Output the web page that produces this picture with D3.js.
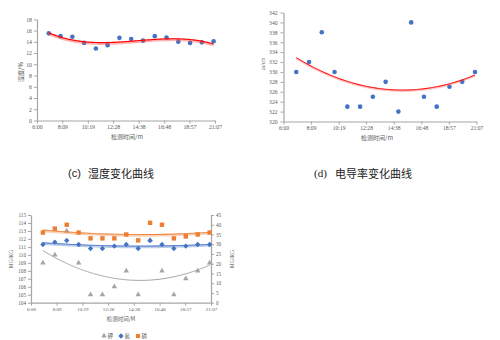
<!DOCTYPE html>
<html><head><meta charset="utf-8">
<script src="https://cdn.jsdelivr.net/npm/d3@7"></script>
<style>body{margin:0;background:#fff}svg{display:block}</style>
</head><body><svg id="root" width="500" height="340"></svg>
<script>
// ---------- data ----------
const sampleTimes = ["7:00","8:00","9:00","10:00","11:00","12:00","13:00","14:00","15:00","16:00","17:00","18:00","19:00","20:00","21:00"];
const tickLabels = ["6:00","8:09","10:19","12:28","14:38","16:48","18:57","21:07"];
const humidity = [15.5,15.0,14.9,13.8,12.8,13.4,14.7,14.5,14.2,15.0,14.75,14.0,13.8,13.9,14.1];
const humidityTicks = [0,2,4,6,8,10,12,14,16,18];
const conductivity = [330,332,338,330,323,323,325,328,322,340,325,323,327,328,330];
const conductivityTicks = [320,322,324,326,328,330,332,334,336,338,340,342];
const potassium = [109,110,113,109,105,105,106,108,105,111.8,108,105,107,108,109];
const nitrogen = [111.3,111.6,111.8,111.3,110.8,110.8,111.1,111.3,110.8,111.8,111.3,110.8,111.1,111.3,111.3];
const phosphorus = [36,38,40,36,33,33,33,35,32,41,40,33,34,35,36];
const leftTicks = [104,105,106,107,108,109,110,111,112,113,114,115];
const rightTicks = [0,5,10,15,20,25,30,35,40,45];
const legendNames = ["钾","氮","磷"];

// ---------- helpers ----------
const toMin = s => { const [h,m] = s.split(":").map(Number); return h*60+m; };
const tMin = sampleTimes.map(toMin);
const tickMin = tickLabels.map(toMin);
const svg = d3.select("#root");
const AX = "#a6a6a6", TXT = "#595959";
const SERIF = "'Liberation Serif','Times New Roman',serif";
const CJK = "'Noto Sans CJK SC','Noto Sans',sans-serif";

function polyfit(xs, ys, deg){
  const pts = xs.map((x,i)=>[(x-840)/60, ys[i]]).filter(p=>p[1]!=null);
  const n = deg+1;
  const A = Array.from({length:n},()=>Array(n+1).fill(0));
  for(const [x,y] of pts){
    for(let r=0;r<n;r++){
      for(let c=0;c<n;c++) A[r][c]+=Math.pow(x,r+c);
      A[r][n]+=Math.pow(x,r)*y;
    }
  }
  for(let i=0;i<n;i++){
    let p=i; for(let k=i+1;k<n;k++) if(Math.abs(A[k][i])>Math.abs(A[p][i])) p=k;
    [A[i],A[p]]=[A[p],A[i]];
    for(let k=0;k<n;k++){ if(k===i) continue; const f=A[k][i]/A[i][i]; for(let c=i;c<=n;c++) A[k][c]-=f*A[i][c]; }
  }
  const coef = A.map((row,i)=>row[n]/row[i]);
  return m => { const x=(m-840)/60; return coef.reduce((s,c,i)=>s+c*Math.pow(x,i),0); };
}
function trendPts(ys, deg){
  const f = polyfit(tMin, ys, deg);
  return d3.range(tMin[0], tMin[tMin.length-1]+0.1, 5).map(m=>[m,f(m)]);
}
function xAxis(g, x, yPos, fs){
  const ax = d3.axisBottom(x).tickValues(tickMin).tickFormat((d,i)=>tickLabels[i]).tickSize(3).tickSizeOuter(0).tickPadding(1.5);
  const a = g.append("g").attr("transform",`translate(0,${yPos})`).call(ax);
  style(a, fs);
}
function style(a, fs){
  a.select(".domain").attr("stroke",AX).attr("stroke-width",1.2);
  a.selectAll(".tick line").attr("stroke",AX);
  a.selectAll("text").attr("fill",TXT).attr("font-family",SERIF).attr("font-size",fs);
}
function title(g, x, y, txt, fs){
  g.append("text").attr("x",x).attr("y",y).attr("text-anchor","middle").attr("dominant-baseline","central")
    .attr("font-family",CJK).attr("font-size",fs).attr("fill",TXT).text(txt);
}

// ---------- (c) humidity ----------
{
  const x = d3.scaleLinear().domain([tickMin[0], tickMin[tickMin.length-1]]).range([37,215]);
  const y = d3.scaleLinear().domain([0,18]).range([120.5,19.3]);
  const g = svg.append("g");
  xAxis(g, x, 120.5, 5.8);
  const ya = g.append("g").attr("transform","translate(37,0)").call(d3.axisLeft(y).tickValues(humidityTicks).tickSize(3).tickSizeOuter(0).tickPadding(2));
  style(ya, 5.8);
  const pts = trendPts(humidity, 3);
  const line = d3.line().x(d=>x(d[0])).y(d=>y(d[1])).curve(d3.curveBasis);
  g.selectAll(".dot").data(humidity).join("circle").attr("cx",(d,i)=>x(tMin[i])).attr("cy",d=>y(d)).attr("r",2.3).attr("fill","#4472c4");
  g.append("path").attr("d",line(pts)).attr("fill","none").attr("stroke","rgba(255,80,80,0.45)").attr("stroke-width",3).attr("transform","translate(0,0.8)");
  g.append("path").attr("d",line(pts)).attr("fill","none").attr("stroke","#ff0000").attr("stroke-width",1.1);
  title(g, 127, 136.5, "检测时间/m", 6);
  g.append("text").attr("transform","translate(20,72) rotate(-90)").attr("text-anchor","middle").attr("dominant-baseline","central").attr("font-family",CJK).attr("font-size",6).attr("fill",TXT).text("湿度/%");
  const cap = g.append("text").attr("x",68).attr("y",173).attr("dominant-baseline","central").attr("font-size",11).attr("fill","#222");
  cap.append("tspan").attr("font-family","'Liberation Sans',Arial,sans-serif").text("(c)");
  cap.append("tspan").attr("x",88).attr("font-family",CJK).text("湿度变化曲线");
}

// ---------- (d) conductivity ----------
{
  const x = d3.scaleLinear().domain([tickMin[0], tickMin[tickMin.length-1]]).range([283.5,476.5]);
  const y = d3.scaleLinear().domain([320,342]).range([121.5,12.5]);
  const g = svg.append("g");
  xAxis(g, x, 121.5, 5.6);
  const ya = g.append("g").attr("transform","translate(283.5,0)").call(d3.axisLeft(y).tickValues(conductivityTicks).tickSize(3).tickSizeOuter(0).tickPadding(3));
  style(ya, 5.6);
  const pts = trendPts(conductivity, 2);
  const line = d3.line().x(d=>x(d[0])).y(d=>y(d[1])).curve(d3.curveBasis);
  g.selectAll(".dot").data(conductivity).join("circle").attr("cx",(d,i)=>x(tMin[i])).attr("cy",d=>y(d)).attr("r",2.3).attr("fill","#4472c4");
  g.append("path").attr("d",line(pts)).attr("fill","none").attr("stroke","rgba(255,80,80,0.35)").attr("stroke-width",2.4).attr("transform","translate(0,0.6)");
  g.append("path").attr("d",line(pts)).attr("fill","none").attr("stroke","#ff0000").attr("stroke-width",1);
  title(g, 377, 137.5, "检测时间/m", 6);
  g.append("text").attr("transform","translate(263,64) rotate(-90)").attr("text-anchor","middle").attr("dominant-baseline","central").attr("font-family",SERIF).attr("font-size",5.5).attr("fill",TXT).text("us/cm");
  const cap = g.append("text").attr("x",314).attr("y",173).attr("dominant-baseline","central").attr("font-size",11).attr("fill","#222");
  cap.append("tspan").attr("font-family",SERIF).text("(d)");
  cap.append("tspan").attr("x",335).attr("font-family",CJK).text("电导率变化曲线");
}

// ---------- (e) nutrients ----------
{
  const x = d3.scaleLinear().domain([tickMin[0], tickMin[tickMin.length-1]]).range([31,211]);
  const yL = d3.scaleLinear().domain([104,115]).range([302.7,215]);
  const yR = d3.scaleLinear().domain([0,45]).range([302.7,215]);
  const g = svg.append("g");
  xAxis(g, x, 302.7, 5);
  const la = g.append("g").attr("transform","translate(31,0)").call(d3.axisLeft(yL).tickValues(leftTicks).tickSize(3).tickSizeOuter(0).tickPadding(2));
  style(la, 5.2);
  const ra = g.append("g").attr("transform","translate(211,0)").call(d3.axisRight(yR).tickValues(rightTicks).tickSize(3).tickSizeOuter(0).tickPadding(2));
  style(ra, 5.2);
  const C = {k:"#a5a5a5", n:"#4472c4", p:"#ed7d31"};
  const tri = d3.symbol().type(d3.symbolTriangle).size(13);
  const dia = d3.symbol().type(d3.symbolSquare).size(14);
  g.selectAll(".k").data(potassium.map((v,i)=>[tMin[i],v]).filter(d=>d[1]!=null)).join("path")
    .attr("d",tri).attr("transform",d=>`translate(${x(d[0])},${yL(d[1])})`).attr("fill",C.k);
  g.selectAll(".n").data(nitrogen).join("path")
    .attr("d",dia).attr("transform",(d,i)=>`translate(${x(tMin[i])},${yL(d)}) rotate(45)`).attr("fill",C.n);
  g.selectAll(".p").data(phosphorus).join("rect")
    .attr("x",(d,i)=>x(tMin[i])-2.2).attr("y",d=>yR(d)-2.2).attr("width",4.4).attr("height",4.4).attr("fill",C.p);
  const lineL = d3.line().x(d=>x(d[0])).y(d=>yL(d[1])).curve(d3.curveBasis);
  const lineR = d3.line().x(d=>x(d[0])).y(d=>yR(d[1])).curve(d3.curveBasis);
  const tp = trendPts(phosphorus,2), tn = trendPts(nitrogen,2), tk = trendPts(potassium,2);
  g.append("path").attr("d",lineR(tp)).attr("fill","none").attr("stroke","rgba(237,125,49,0.35)").attr("stroke-width",2.6).attr("transform","translate(0,0.9)");
  g.append("path").attr("d",lineR(tp)).attr("fill","none").attr("stroke",C.p).attr("stroke-width",1);
  g.append("path").attr("d",lineL(tn)).attr("fill","none").attr("stroke","rgba(68,114,196,0.35)").attr("stroke-width",2.6).attr("transform","translate(0,0.9)");
  g.append("path").attr("d",lineL(tn)).attr("fill","none").attr("stroke",C.n).attr("stroke-width",1);
  g.append("path").attr("d",lineL(tk)).attr("fill","none").attr("stroke","#999").attr("stroke-width",0.9);
  title(g, 121, 319, "检测时间/M", 5.5);
  g.append("text").attr("transform","translate(11,259) rotate(-90)").attr("text-anchor","middle").attr("dominant-baseline","central").attr("font-family",SERIF).attr("font-size",5.5).attr("fill",TXT).text("MG/KG");
  g.append("text").attr("transform","translate(232,259) rotate(-90)").attr("text-anchor","middle").attr("dominant-baseline","central").attr("font-family",SERIF).attr("font-size",5.5).attr("fill",TXT).text("MG/KG");
  // legend
  const lx = [104,121,138], ly = 336;
  g.append("path").attr("d",tri).attr("transform",`translate(${lx[0]},${ly})`).attr("fill",C.k);
  g.append("path").attr("d",dia).attr("transform",`translate(${lx[1]},${ly}) rotate(45)`).attr("fill",C.n);
  g.append("rect").attr("x",lx[2]-2).attr("y",ly-2).attr("width",4).attr("height",4).attr("fill",C.p);
  legendNames.forEach((nm,i)=>g.append("text").attr("x",lx[i]+3.5).attr("y",ly).attr("dominant-baseline","central").attr("font-family",CJK).attr("font-size",5.5).attr("fill",TXT).text(nm));
}
</script></body></html>
